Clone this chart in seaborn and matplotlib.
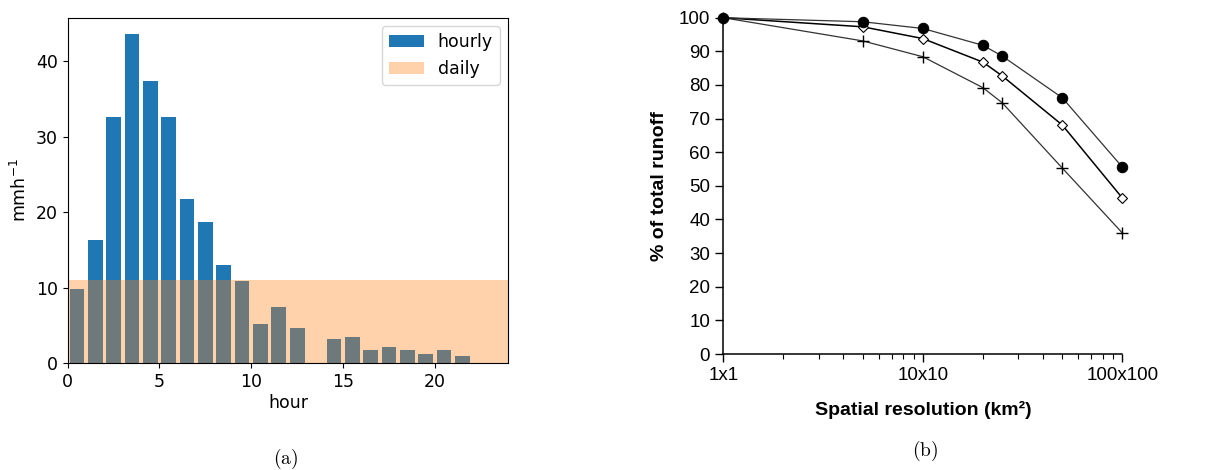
import numpy as np
import pandas as pd
import matplotlib
matplotlib.use("Agg")
import matplotlib.pyplot as plt
import matplotlib.ticker as mticker
import seaborn as sns

# (a) rainfall intensity per hour
hours = np.arange(24)
hourly = [9.9, 16.3, 32.6, 43.6, 37.35, 32.6, 21.7, 18.7, 13.0, 10.9, 5.2, 7.45,
          4.67, 0.0, 3.2, 3.5, 1.76, 2.16, 1.76, 1.23, 1.76, 0.97, 0.0, 0.0]
daily = 11.0

# (b) share of runoff versus grid size
resolution_km = [1, 5, 10, 20, 25, 50, 100]
runoff_circle = [100, 98.8, 96.8, 91.8, 88.6, 76.2, 55.6]
runoff_diamond = [100, 97.3, 93.8, 86.8, 82.7, 68.1, 46.4]
runoff_plus = [100, 93.1, 88.4, 79.2, 74.7, 55.3, 36.0]
res_ticks = [1, 10, 100]
res_labels = ["1x1", "10x10", "100x100"]

fig = plt.figure(figsize=(12.09, 4.70), dpi=100)

# ---- panel (a)
ax1 = fig.add_axes([0.056, 0.227, 0.3644, 0.7353])
hourly_df = pd.DataFrame({"hour": hours + 0.5, "rain": hourly})
sns.barplot(data=hourly_df, x="hour", y="rain", native_scale=True, width=0.8,
            color="tab:blue", saturation=1, label="hourly", ax=ax1)
ax1.bar(0, daily, width=24, align="edge", color="tab:orange", alpha=0.35, label="daily")
ax1.set_xlim(0, 24)
ax1.set_ylim(0, max(hourly) * 1.05)
ax1.set_xticks([0, 5, 10, 15, 20])
ax1.set_yticks([0, 10, 20, 30, 40])
ax1.tick_params(labelsize=12.5)
ax1.set_xlabel("hour", fontsize=12.5, labelpad=2)
ax1.set_ylabel("mmh$^{-1}$", fontsize=12.5)
ax1.legend(loc="upper right", fontsize=12.5)

# ---- panel (b)
sans = "Liberation Sans"
ax2 = fig.add_axes([0.5983, 0.2468, 0.330, 0.7155])
line_kw = dict(color="#333333", linewidth=0.9, clip_on=False)
sns.lineplot(x=resolution_km, y=runoff_plus, marker="+", markersize=9,
             markeredgecolor="black", markeredgewidth=1.0, ax=ax2, **line_kw)
sns.lineplot(x=resolution_km, y=runoff_diamond, marker="D", markersize=5.5,
             markerfacecolor="white", markeredgecolor="black", markeredgewidth=0.8,
             ax=ax2, color="black", linewidth=1.1, clip_on=False)
sns.lineplot(x=resolution_km, y=runoff_circle, marker="o", markersize=7.5,
             markerfacecolor="black", markeredgecolor="black", ax=ax2, **line_kw)
ax2.set_xscale("log")
ax2.set_xlim(1, 100)
ax2.set_ylim(0, 100)
ax2.xaxis.set_major_locator(mticker.FixedLocator(res_ticks))
ax2.xaxis.set_major_formatter(mticker.FixedFormatter(res_labels))
ax2.xaxis.set_minor_locator(mticker.LogLocator(base=10, subs=np.arange(2, 10)))
ax2.xaxis.set_minor_formatter(mticker.NullFormatter())
ax2.set_yticks(np.arange(0, 101, 10))
for side in ("top", "right"):
    ax2.spines[side].set_visible(False)
for side in ("left", "bottom"):
    ax2.spines[side].set_linewidth(1.1)
ax2.tick_params(which="major", length=6, width=1.0, labelsize=13.5)
ax2.tick_params(which="minor", length=3.5, width=0.8)
for lab in ax2.get_xticklabels() + ax2.get_yticklabels():
    lab.set_fontfamily(sans)
ax2.set_xlabel("Spatial resolution (km²)", fontsize=14, fontweight="bold",
               fontfamily=sans, labelpad=12)
ax2.set_ylabel("% of total runoff", fontsize=14, fontweight="bold",
               fontfamily=sans, labelpad=8)

# captions
fig.text(0.236, 0.012, r"$\mathrm{(a)}$", ha="center", fontsize=14, math_fontfamily="cm")
fig.text(0.765, 0.03, r"$\mathrm{(b)}$", ha="center", fontsize=14, math_fontfamily="cm")

fig.savefig("out.png", dpi=100)
